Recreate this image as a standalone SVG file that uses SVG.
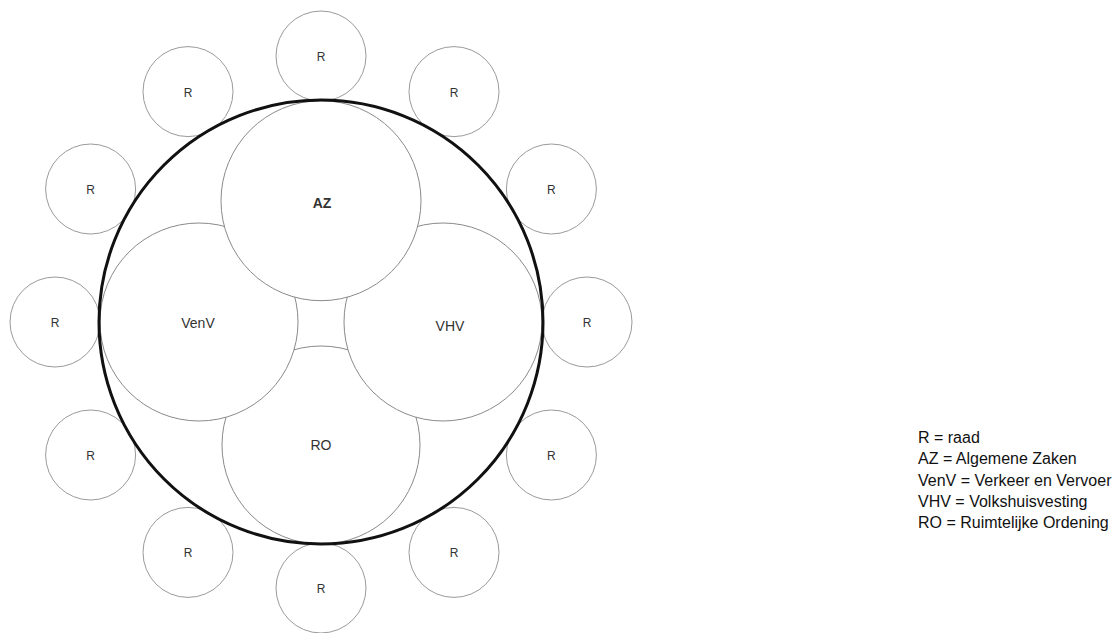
<svg xmlns="http://www.w3.org/2000/svg" width="1116" height="633" viewBox="0 0 1116 633">
<style>
.r circle{fill:#fff;stroke:#9a9a9a;stroke-width:1}
.r text{font-family:"Liberation Sans",Arial,sans-serif;font-size:12px;fill:#333;text-anchor:middle}
.in circle{fill:#fff;stroke:#8a8a8a;stroke-width:1}
.in text{font-family:"Liberation Sans",Arial,sans-serif;font-size:14px;fill:#333;text-anchor:middle}
.legend text{font-family:"Liberation Sans",Arial,sans-serif;font-size:16px;fill:#111}
</style>
<rect width="1116" height="633" fill="#fff"/>
<g id="council" class="r">
<g id="r0"><circle cx="587" cy="322" r="45"/><text x="587" y="327">R</text></g>
<g id="r30"><circle cx="551.4" cy="189" r="45"/><text x="551.4" y="194">R</text></g>
<g id="r60"><circle cx="454" cy="91.6" r="45"/><text x="454" y="96.6">R</text></g>
<g id="r90"><circle cx="321" cy="56" r="45"/><text x="321" y="61">R</text></g>
<g id="r120"><circle cx="188" cy="91.6" r="45"/><text x="188" y="96.6">R</text></g>
<g id="r150"><circle cx="90.6" cy="189" r="45"/><text x="90.6" y="194">R</text></g>
<g id="r180"><circle cx="55" cy="322" r="45"/><text x="55" y="327">R</text></g>
<g id="r210"><circle cx="90.6" cy="455" r="45"/><text x="90.6" y="460">R</text></g>
<g id="r240"><circle cx="188" cy="552.4" r="45"/><text x="188" y="557.4">R</text></g>
<g id="r270"><circle cx="321" cy="588" r="45"/><text x="321" y="593">R</text></g>
<g id="r300"><circle cx="454" cy="552.4" r="45"/><text x="454" y="557.4">R</text></g>
<g id="r330"><circle cx="551.4" cy="455" r="45"/><text x="551.4" y="460">R</text></g>
</g>
<g class="in">
<g id="RO"><circle cx="321" cy="445" r="99"/><text x="321" y="450">RO</text></g>
<g id="VenV"><circle cx="199" cy="322" r="99"/><text x="198" y="328">VenV</text></g>
<g id="VHV"><circle cx="443" cy="322" r="99"/><text x="450" y="331">VHV</text></g>
<g id="AZ"><circle cx="321" cy="200.7" r="100" stroke="#111" stroke-width="1.8"/><text x="322" y="208" font-weight="bold" fill="#111">AZ</text></g>
</g>
<g id="outer"><circle cx="321" cy="322" r="222" fill="none" stroke="#111" stroke-width="3"/></g>
<g id="connectors"/>
<g id="legend" class="legend">
<text x="918" y="443">R = raad</text>
<text x="918" y="464.3">AZ = Algemene Zaken</text>
<text x="918" y="485.6">VenV = Verkeer en Vervoer</text>
<text x="918" y="506.9">VHV = Volkshuisvesting</text>
<text x="918" y="528.2">RO = Ruimtelijke Ordening</text>
</g>
</svg>
